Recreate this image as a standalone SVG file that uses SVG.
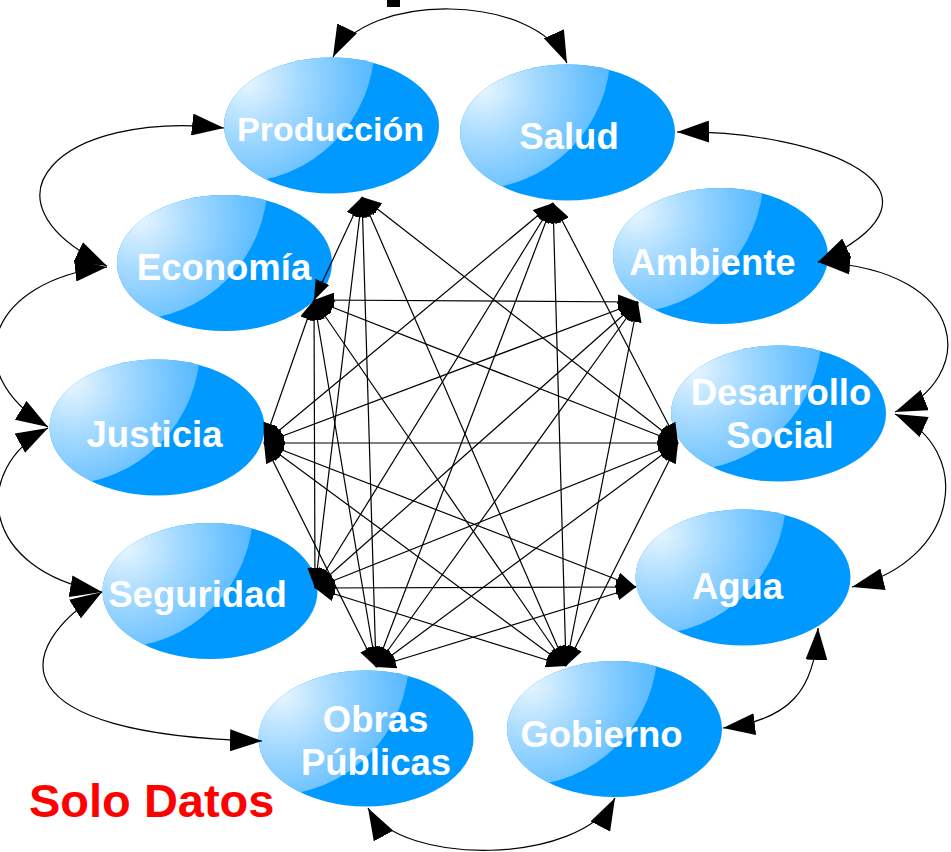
<svg xmlns="http://www.w3.org/2000/svg" width="951" height="852" viewBox="0 0 951 852">
<defs>
<style>
.base{fill:#0099ff}
.hl{fill:url(#hlg)}
.lbl{fill:#fff;font-family:"Liberation Sans",Arial,sans-serif;font-weight:bold;font-size:36.5px;text-anchor:middle}
.lk{fill:none;stroke:#000;stroke-width:1.2;marker-start:url(#ah);marker-end:url(#ah)}
.arc{fill:none;stroke:#000;stroke-width:1.2;marker-start:url(#AH);marker-end:url(#AH)}
</style>
<radialGradient id="hlg" gradientUnits="userSpaceOnUse" cx="-85" cy="-45" r="150">
<stop offset="0" stop-color="#e8f6ff"/>
<stop offset="0.35" stop-color="#a6daff"/>
<stop offset="0.7" stop-color="#6cc2ff"/>
<stop offset="1" stop-color="#45b0ff"/>
</radialGradient>
<clipPath id="ec" clipPathUnits="userSpaceOnUse"><ellipse rx="107.5" ry="68"/></clipPath>
<marker id="ah" viewBox="0 0 20 15" refX="20" refY="7.5" markerWidth="20" markerHeight="15" markerUnits="userSpaceOnUse" orient="auto-start-reverse"><path d="M0,0 L20,7.5 L0,15 z" fill="#000"/></marker>
<marker id="AH" viewBox="0 0 32 22" refX="32" refY="11" markerWidth="32" markerHeight="22" markerUnits="userSpaceOnUse" orient="auto-start-reverse"><path d="M0,0 L32,11 L0,22 z" fill="#000"/></marker>
<g id="blob"><ellipse class="base" rx="107.5" ry="68"/><circle class="hl" cx="-95" cy="-81" r="138" clip-path="url(#ec)"/></g>
</defs>
<rect x="387" y="0" width="13" height="7" fill="#000"/>
<g id="n-produccion"><use href="#blob" transform="translate(331.5,125.5)"/><text class="lbl" x="330.5" y="141" style="font-size:34px">Producción</text></g>
<g id="n-salud"><use href="#blob" transform="translate(567.5,132.5)"/><text class="lbl" x="569" y="149">Salud</text></g>
<g id="n-economia"><use href="#blob" transform="translate(224.5,263)"/><text class="lbl" x="224" y="280">Economía</text></g>
<g id="n-ambiente"><use href="#blob" transform="translate(720.5,256)"/><text class="lbl" x="712.5" y="275">Ambiente</text></g>
<g id="n-justicia"><use href="#blob" transform="translate(157,427.5)"/><text class="lbl" x="154.5" y="447">Justicia</text></g>
<g id="n-desarrollo"><use href="#blob" transform="translate(778.5,413.5)"/><text class="lbl" x="781" y="405">Desarrollo</text><text class="lbl" x="780" y="448">Social</text></g>
<g id="n-seguridad"><use href="#blob" transform="translate(210,591)"/><text class="lbl" x="197.5" y="607">Seguridad</text></g>
<g id="n-agua"><use href="#blob" transform="translate(743,577.5)"/><text class="lbl" x="737.5" y="599">Agua</text></g>
<g id="n-obras"><use href="#blob" transform="translate(366,738.5)"/><text class="lbl" x="375.5" y="732">Obras</text><text class="lbl" x="376" y="775">Públicas</text></g>
<g id="n-gobierno"><use href="#blob" transform="translate(614.5,729)"/><text class="lbl" x="601.5" y="747">Gobierno</text></g>
<text id="solo-datos" x="29" y="817" style="fill:#ff0000;font-family:'Liberation Sans',Arial,sans-serif;font-weight:bold;font-size:47px">Solo Datos</text>
<g id="connectors">
<path class="arc" d="M333,57 C365,-8 535,-8 567,63"/>
<path class="arc" d="M224,128 C60,110 -30,200 107,266"/>
<path class="arc" d="M107,267 C-10,280 -45,370 48,427"/>
<path class="arc" d="M48,428 C-30,470 -20,570 102,592"/>
<path class="arc" d="M102,592 C10,650 0,735 262,741"/>
<path class="arc" d="M368,808 C400,866 580,866 615,798"/>
<path class="arc" d="M723,728 C790,720 815,690 818,628"/>
<path class="arc" d="M852,587 C960,560 975,450 895,414"/>
<path class="arc" d="M895,412 C975,380 975,270 818,262"/>
<path class="arc" d="M677,132 C820,130 972,190 818,262"/>
<path class="lk" d="M362,197 L314,300"/>
<path class="lk" d="M362,197 L678,443"/>
<path class="lk" d="M362,197 L315,588"/>
<path class="lk" d="M362,197 L376,667"/>
<path class="lk" d="M362,197 L566,666"/>
<path class="lk" d="M553,203 L264,443"/>
<path class="lk" d="M553,203 L678,443"/>
<path class="lk" d="M553,203 L315,588"/>
<path class="lk" d="M553,203 L376,667"/>
<path class="lk" d="M553,203 L566,666"/>
<path class="lk" d="M314,300 L638,302"/>
<path class="lk" d="M314,300 L264,443"/>
<path class="lk" d="M314,300 L678,443"/>
<path class="lk" d="M314,300 L315,588"/>
<path class="lk" d="M314,300 L376,667"/>
<path class="lk" d="M314,300 L566,666"/>
<path class="lk" d="M638,302 L264,443"/>
<path class="lk" d="M638,302 L315,588"/>
<path class="lk" d="M638,302 L376,667"/>
<path class="lk" d="M638,302 L566,666"/>
<path class="lk" d="M264,443 L678,443"/>
<path class="lk" d="M264,443 L636,587"/>
<path class="lk" d="M264,443 L376,667"/>
<path class="lk" d="M264,443 L566,666"/>
<path class="lk" d="M678,443 L315,588"/>
<path class="lk" d="M678,443 L376,667"/>
<path class="lk" d="M678,443 L566,666"/>
<path class="lk" d="M315,588 L636,587"/>
<path class="lk" d="M315,588 L566,666"/>
<path class="lk" d="M636,587 L376,667"/>
</g>
</svg>
